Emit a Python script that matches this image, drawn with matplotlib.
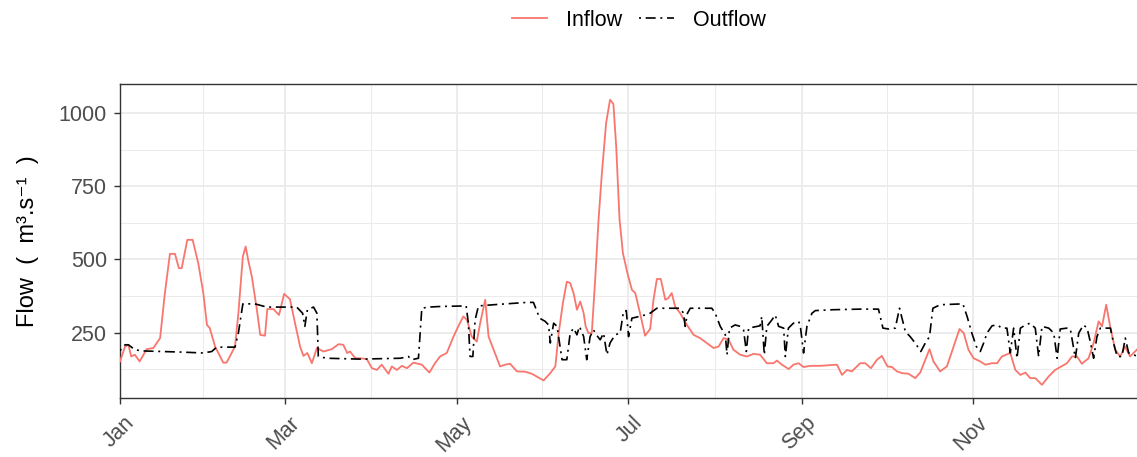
import numpy as np
import pandas as pd
import matplotlib
matplotlib.use("Agg")
import matplotlib.pyplot as plt
import matplotlib.dates as mdates
import matplotlib.transforms as mtransforms
from matplotlib.ticker import FixedLocator

plt.rcParams['font.family'] = ['Liberation Sans', 'DejaVu Sans', 'Noto Sans CJK SC']

# Data (day of year offset from Jan 1, flow in m3/s)
inflow_day = [0, 1.8, 3, 4, 5.3, 7, 9.5, 11.9, 14.3, 16, 17.8, 19.6, 21, 22, 24, 25.9,
              27.9, 29.7, 31, 32, 33.9, 35.7, 36.8, 38, 39.8, 41, 42.2, 43.8, 44.8,
              45.8, 47, 48.8, 50, 51.7, 52.5, 54.7, 56.7, 58.5, 60.6, 62.4, 64.2,
              65.4, 66.8, 68.4, 70.2, 72.5, 75.5, 77.9, 79.6, 81, 82, 83.9, 85.6,
              88, 89.8, 91.6, 93.3, 95.7, 96.9, 98.7, 100.5, 102.3, 104.6, 107.6,
              110.3, 112.3, 114.1, 116.5, 118.9, 120.6, 122.4, 123.7, 125.4, 127.2,
              128.4, 130.2, 131.4, 133.2, 135.5, 137.3, 139.1, 141.5, 144.4, 146.8,
              149.2, 151, 153.4, 155.2, 156.4, 157.9, 159.3, 160.5, 161.7, 162.9,
              164.1, 165.3, 166, 167, 168.2, 169.4, 170.6, 171.8, 173.3, 174.7,
              175.9, 176.9, 178.1, 179.3, 180.9, 182.5, 183.7, 185.4, 187.2, 189,
              190.2, 191.4, 192.8, 194.4, 195.5, 196.7, 197.9, 199.7, 202.1, 204.5,
              206.8, 209.2, 211.6, 213.4, 215.2, 217, 218.7, 221.1, 223.5, 225.9,
              228.2, 230.6, 233, 234.2, 236, 238.4, 240.1, 241.9, 243.7, 246.1,
              249.6, 255.6, 257.4, 259.2, 260.9, 263.9, 265.7, 267.7, 269.9, 271.6,
              273.6, 275.2, 277, 278.8, 281.1, 283.5, 285.3, 287.1, 288.6, 290,
              292.4, 294.8, 297.2, 299.3, 300.8, 302.5, 304.3, 306.7, 308.5, 310.9,
              312.7, 314.4, 317.4, 319.2, 321, 322.8, 324.5, 326.3, 328.7, 331.1,
              333.4, 335.2, 337.6, 339.4, 341.2, 342.9, 345.3, 347.1, 348.9, 350.1,
              351.6, 353, 354.8, 356.6, 358.3, 360.1, 362.7, 364]
inflow_val = [151, 202, 208, 168, 174, 151, 193, 197, 231, 385, 519, 519, 470, 470, 567, 567,
              487, 385, 276, 265, 202, 168, 147, 147, 180, 202, 316, 510, 544,
              493, 441, 328, 242, 239, 330, 330, 310, 382, 364, 282, 202,
              170, 180, 145, 197, 185, 193, 210, 208, 180, 185, 162, 162,
              159, 128, 122, 140, 109, 134, 122, 136, 128, 147, 140,
              113, 145, 168, 180, 236, 271, 305, 293, 236, 219,
              282, 362, 236, 191, 134, 140, 143, 117, 116, 109,
              96, 86, 111, 134, 248, 351, 424, 419, 385, 328,
              356, 316, 271, 248, 248, 430, 635, 795, 966, 1046,
              1032, 886, 635, 521, 453, 396, 385, 316, 239, 262,
              362, 433, 433, 362, 368, 385, 339, 316, 276, 242,
              231, 214, 197, 202, 231, 225, 191, 174, 168, 177,
              174, 145, 145, 154, 140, 125, 140, 145, 132, 136,
              136, 140, 105, 122, 117, 145, 145, 128, 157, 170,
              134, 132, 117, 111, 109, 94, 113, 157, 193, 151,
              117, 134, 202, 262, 248, 191, 162, 151, 140, 145,
              145, 168, 180, 122, 105, 113, 94, 94, 71, 100,
              122, 132, 145, 168, 168, 143, 162, 214, 288, 271,
              345, 271, 191, 168, 202, 168, 193, 205]

outflow_day = [0, 1.8, 3, 5.3, 8, 15, 22, 29.7, 32.7, 34.5, 41, 42.2, 43.8, 48.1, 52.3,
               63, 65.1, 65.9, 66.8, 69, 70.2, 70.7, 73.7, 85.6, 100, 102.8, 104,
               106.4, 107.6, 110, 114.1, 123.4, 124.2, 124.8, 125.8, 126.6, 127.8,
               133.2, 145, 147.4, 149.6, 151.6, 152.8, 153.4, 154.6, 155.8, 157.6,
               159.3, 160.5, 161.7, 162.9, 163.8, 165.3, 166.4, 167.6, 168.8, 170,
               171.2, 172.4, 173.6, 174.7, 176.5, 178.3, 179.5, 180.5, 181.3, 182.5,
               184.3, 187.2, 189, 191.4, 199.7, 200.9, 201.5, 202.3, 203.3, 211,
               212.2, 214, 215.8, 216.4, 217.3, 219.3, 221.1, 222.3, 223.3, 224.1,
               228.2, 228.8, 229.7, 230.6, 232.4, 233.6, 234.8, 236.6, 237.2, 238.3,
               240.1, 241.9, 242.5, 243.7, 244.9, 246.7, 247.9, 254.4, 263.9, 270.4,
               272, 274, 276.4, 277.9, 280, 281.7, 283.5, 285.5, 287.1, 288.6, 289.8,
               292.4, 300.5, 302, 303.7, 305.3, 306.7, 307.9, 309.1, 310.9, 312.7,
               314.4, 316.2, 317.4, 318.6, 319.8, 321, 322.8, 324.5, 326.3, 327.5,
               328.7, 331.1, 332.9, 334.1, 335.2, 337.6, 338.8, 340.6, 341.8, 343.5,
               344.8, 345.9, 347.1, 348.3, 349.5, 353.1, 354.2, 355.5, 357.2, 358.4,
               359.6, 361.4, 362.7, 364]
outflow_val = [188, 208, 208, 191, 187, 185, 183, 180, 185, 200, 200, 248, 348, 348, 337,
               337, 316, 271, 328, 337, 316, 168, 162, 159, 162, 168, 157,
               162, 333, 337, 339, 341, 282, 168, 168, 293, 341,
               345, 353, 353, 299, 288, 276, 214, 282, 271, 157,
               157, 248, 265, 242, 271, 236, 157, 236, 259, 240,
               225, 248, 174, 214, 242, 248, 322, 325, 236, 299,
               303, 310, 316, 333, 333, 316, 271, 316, 333, 333,
               316, 271, 242, 174, 265, 276, 271, 259, 185, 265,
               273, 305, 174, 271, 293, 310, 271, 265, 168, 265,
               282, 288, 276, 180, 271, 316, 325, 328, 330, 330,
               265, 262, 265, 333, 253, 236, 214, 185, 214, 236, 333,
               345, 348, 305, 248, 202, 185, 214, 248, 273, 276,
               265, 265, 180, 265, 162, 265, 276, 282, 265, 168,
               271, 265, 248, 162, 262, 265, 262, 162, 248, 276,
               265, 219, 162, 236, 265, 265, 214, 168, 168, 231,
               180, 174, 168, 165]

start = pd.Timestamp('2019-01-01')
inflow_dates = start + pd.to_timedelta(inflow_day, unit='D')
outflow_dates = start + pd.to_timedelta(outflow_day, unit='D')

W, H = 1137, 457
fig = plt.figure(figsize=(W / 100, H / 100), dpi=100)
ax = fig.add_axes([120 / W, 59 / H, 1021 / W, 314 / H])

ax.plot(inflow_dates, inflow_val, color='#F8766D', lw=1.3, label='Inflow', zorder=3)
ax.plot(outflow_dates, outflow_val, color='black', lw=1.2, dashes=[1.2, 2.8, 6, 2.8],
        label='Outflow', zorder=3)

ax.set_xlim(start, pd.Timestamp('2019-12-31'))
ax.set_ylim(26, 1100)

# major / minor breaks like ggplot
major = pd.to_datetime(['2019-01-01', '2019-03-01', '2019-05-01', '2019-07-01',
                        '2019-09-01', '2019-11-01'])
major_num = mdates.date2num(major)
minor_num = list((major_num[:-1] + major_num[1:]) / 2) + [major_num[-1] + (major_num[-1] - major_num[-2]) / 2]
ax.xaxis.set_major_locator(FixedLocator(major_num))
ax.xaxis.set_major_formatter(mdates.DateFormatter('%b'))
ax.xaxis.set_minor_locator(FixedLocator(minor_num))
ax.set_yticks([250, 500, 750, 1000])
ax.set_yticks([125, 375, 625, 875], minor=True)

ax.grid(which='major', color='#EBEBEB', lw=1.3, zorder=0)
ax.grid(which='minor', color='#EBEBEB', lw=0.7, zorder=0)
ax.set_axisbelow(True)

for s in ax.spines.values():
    s.set_color('#333333')
    s.set_linewidth(1.0)

ax.tick_params(which='major', length=4.3, width=1.0, color='#333333',
               labelcolor='#4D4D4D', labelsize=15.5, pad=5)
ax.tick_params(axis='x', which='major', pad=6)
ax.tick_params(which='minor', length=0)
shift = mtransforms.ScaledTranslation(4 / 100, 0, fig.dpi_scale_trans)
for lab in ax.get_xticklabels():
    lab.set_rotation(45)
    lab.set_ha('right')
    lab.set_va('top')
    lab.set_rotation_mode('anchor')
    lab.set_transform(lab.get_transform() + shift)

ax.set_ylabel('Flow  (  m³.s⁻¹  )', fontsize=17, color='black', labelpad=14)

fig.legend(loc='center', bbox_to_anchor=(639 / W, 1 - 20 / H), ncol=2, frameon=False,
           fontsize=15.5, handlelength=1.6, handletextpad=0.9, columnspacing=0.8)

fig.savefig('out.png', dpi=100)
